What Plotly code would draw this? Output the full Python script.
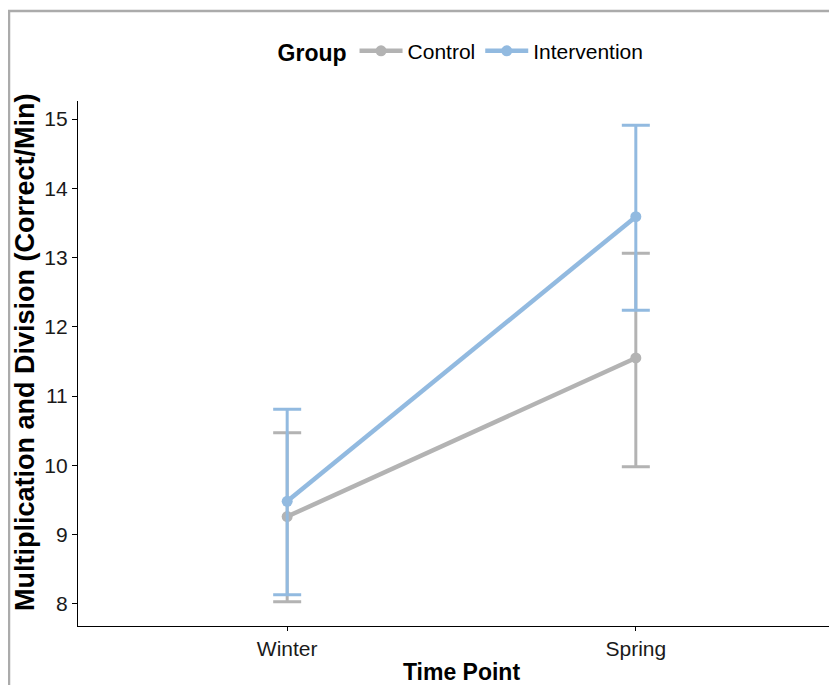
import plotly.graph_objects as go

time_points = ["Winter", "Spring"]
groups = ["Control", "Intervention"]
control_mean = [9.26, 11.55]
control_err_up = [1.21, 1.51]
control_err_down = [1.23, 1.57]
intervention_mean = [9.48, 13.59]
intervention_err_up = [1.33, 1.32]
intervention_err_down = [1.35, 1.35]

colors = {"Control": "#B3B3B3", "Intervention": "#92BAE0"}

W, H = 837, 685
ml, mr, mt, mb = 70, 0, 93, 67
pw, ph = W - ml - mr, H - mt - mb

fig = go.Figure()
series = [
    ("Control", control_mean, control_err_up, control_err_down),
    ("Intervention", intervention_mean, intervention_err_up, intervention_err_down),
]
for name, mean, eu, ed in series:
    fig.add_trace(go.Scatter(
        x=time_points, y=mean, name=name, mode="lines+markers",
        line=dict(color=colors[name], width=4.5),
        marker=dict(color=colors[name], size=11),
        error_y=dict(type="data", array=eu, arrayminus=ed, visible=True,
                     color=colors[name], thickness=3, width=14),
    ))

font_family = "Liberation Sans, Arial, sans-serif"

fig.update_layout(
    width=W, height=H,
    margin=dict(l=ml, r=mr, t=mt, b=mb),
    paper_bgcolor="white", plot_bgcolor="white",
    font=dict(family=font_family, color="black", size=21),
    showlegend=True,
    legend=dict(
        orientation="h", x=0.5007, xanchor="center", y=1.095, yanchor="middle",
        title=dict(text="<b>Group</b>", font=dict(size=23), side="left"),
        font=dict(size=21), itemwidth=43,
    ),
    xaxis=dict(
        type="category", range=[-0.6, 1.6],
        showline=True, linecolor="black", linewidth=1.2,
        ticks="outside", ticklen=4, tickcolor="black",
        showgrid=False, zeroline=False,
        tickfont=dict(size=21, color="#1a1a1a"),
        title=dict(text="<b>Time Point</b>", font=dict(size=23), standoff=4),
    ),
    yaxis=dict(
        range=[7.68, 15.26], dtick=1, tick0=8,
        showline=True, linecolor="black", linewidth=1.2,
        ticks="outside", ticklen=5, tickcolor="black",
        showgrid=False, zeroline=False,
        tickfont=dict(size=21, color="#1a1a1a"),
    ),
)

fig.add_annotation(
    text="<b>Multiplication and Division (Correct/Min)</b>",
    xref="paper", yref="paper", x=(17 - ml) / pw, y=(H - mb - 344) / ph,
    xanchor="center", yanchor="middle", textangle=-90, showarrow=False,
    font=dict(size=27, family=font_family, color="black"),
)

# outer gray frame of the original image
fig.add_shape(type="rect", xref="paper", yref="paper",
              x0=(1 - ml) / pw, x1=2, y0=-1, y1=(H - mb - 3) / ph,
              line=dict(color="#ABABAB", width=2.5), layer="below")

fig.write_html("out.html")
